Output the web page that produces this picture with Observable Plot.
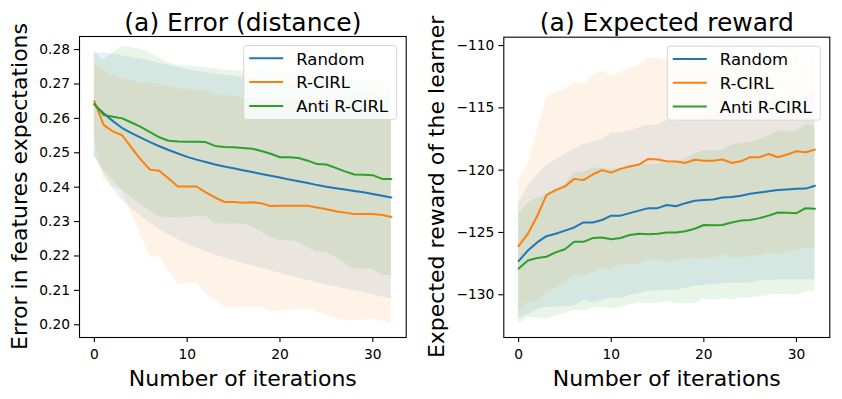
<!DOCTYPE html>
<html>
<head>
<meta charset="utf-8">
<script src="https://cdn.jsdelivr.net/npm/d3@7"></script>
<script src="https://cdn.jsdelivr.net/npm/@observablehq/plot@0.6"></script>
<style>
  html, body { margin: 0; padding: 0; background: white; }
  #chart { display: flex; width: 842px; height: 399px; overflow: hidden; }
  #chart svg { display: block; }
</style>
</head>
<body>
<div id="chart"></div>
<script>
// ---------- data ----------
const iterations = [0,1,2,3,4,5,6,7,8,9,10,11,12,13,14,15,16,17,18,19,20,21,22,23,24,25,26,27,28,29,30,31,32];
const seriesNames = ["Random", "R-CIRL", "Anti R-CIRL"];
const seriesColors = ["#1f77b4", "#ff7f0e", "#2ca02c"];
const xTicks = [0, 10, 20, 30];

// Panel 1: error in feature expectations (mean and std)
const errRandom = [.2640,.2615,.2592,.2572,.2557,.2544,.2531,.2519,.2508,.2498,.2488,.2480,.2473,.2466,.2460,.2455,.2449,.2444,.2438,.2433,.2428,.2422,.2417,.2412,.2406,.2401,.2397,.2393,.2389,.2385,.2380,.2375,.2370];
const errRandomStd = [.0149,.0175,.0195,.0210,.0220,.0228,.0235,.0241,.0246,.0250,.0254,.0257,.0260,.0263,.0266,.0268,.0270,.0272,.0274,.0276,.0278,.0280,.0281,.0283,.0284,.0286,.0287,.0289,.0290,.0291,.0293,.0294,.0295];
const errRcirl = [.2650,.2581,.2562,.2551,.2515,.2480,.2451,.2448,.2425,.2402,.2402,.2402,.2385,.2370,.2357,.2357,.2355,.2356,.2353,.2345,.2346,.2346,.2346,.2346,.2341,.2336,.2330,.2326,.2322,.2322,.2322,.2319,.2313];
const errRcirlStd = [.0107,.0158,.0163,.0163,.0195,.0220,.0254,.0251,.0268,.0285,.0282,.0280,.0295,.0300,.0307,.0307,.0303,.0304,.0301,.0308,.0306,.0303,.0301,.0301,.0304,.0308,.0312,.0314,.0310,.0308,.0306,.0309,.0308];
const errAnti = [.2642,.2610,.2605,.2600,.2588,.2575,.2560,.2545,.2535,.2533,.2532,.2532,.2531,.2520,.2517,.2516,.2514,.2512,.2505,.2497,.2487,.2487,.2485,.2477,.2467,.2466,.2456,.2446,.2437,.2436,.2435,.2424,.2424];
const errAntiStd = [.0153,.0160,.0185,.0210,.0218,.0225,.0230,.0230,.0225,.0222,.0220,.0218,.0216,.0226,.0223,.0223,.0222,.0227,.0235,.0242,.0243,.0243,.0245,.0252,.0255,.0254,.0261,.0268,.0275,.0274,.0273,.0281,.0281];
const errTicks = [0.20, 0.21, 0.22, 0.23, 0.24, 0.25, 0.26, 0.27, 0.28];

// Panel 2: expected reward of the learner (mean and std)
const rewRandom = [-127.3,-126.45,-125.8,-125.3,-125.1,-124.85,-124.6,-124.2,-124.2,-124.0,-123.65,-123.65,-123.45,-123.25,-123.05,-123.05,-122.8,-122.9,-122.65,-122.45,-122.4,-122.35,-122.2,-122.15,-122.05,-121.9,-121.8,-121.7,-121.6,-121.55,-121.5,-121.48,-121.25];
const rewRandomStd = [4.6,5.15,5.42,5.7,5.9,6.1,6.3,6.25,6.45,6.45,6.6,6.65,6.6,6.65,6.65,6.65,6.8,6.75,6.85,6.85,6.85,6.8,6.92,6.93,7.03,7.15,7.1,7.15,7.2,7.25,7.3,7.32,7.55];
const rewRcirl = [-126.1,-125.1,-123.7,-122.0,-121.6,-121.3,-120.7,-120.8,-120.35,-120.0,-120.2,-119.9,-119.7,-119.55,-119.1,-119.15,-119.28,-119.31,-119.42,-119.17,-119.25,-119.25,-119.15,-119.42,-119.29,-118.96,-118.96,-118.7,-118.96,-118.75,-118.48,-118.56,-118.35];
const rewRcirlStd = [5.25,5.57,6.8,7.8,7.85,7.8,7.73,7.7,7.9,7.92,7.78,7.7,7.9,7.97,8.12,8.09,8.13,7.99,7.73,7.83,7.95,7.75,7.6,7.65,7.71,7.99,7.92,7.86,7.84,7.85,7.92,7.65,7.92];
const rewAnti = [-127.9,-127.25,-127.05,-126.95,-126.6,-126.35,-125.75,-125.75,-125.45,-125.4,-125.55,-125.45,-125.2,-125.1,-125.15,-125.1,-125.0,-125.0,-124.9,-124.7,-124.4,-124.42,-124.4,-124.2,-124.05,-124.0,-123.85,-123.65,-123.4,-123.42,-123.45,-123.05,-123.1];
const rewAntiStd = [4.4,4.6,4.8,5.0,5.1,5.2,5.5,5.6,5.6,5.6,5.6,5.6,5.6,5.55,5.6,5.55,5.55,5.7,5.8,6.0,5.95,6.0,5.95,6.2,6.2,6.25,6.3,6.4,6.55,6.55,6.55,6.7,6.65];
const rewTicks = [-130, -125, -120, -115, -110];

// ---------- drawing ----------
const FONT = "DejaVu Sans, sans-serif";

function buildRows(means, stds) {
  return means.flatMap((m, s) => iterations.map((it, i) => ({
    series: seriesNames[s], x: it, y: m[i], lo: m[i] - stds[s][i], hi: m[i] + stds[s][i]
  })));
}

function panel(cfg) {
  const rows = buildRows(cfg.means, cfg.stds);
  const W = 421, H = 399;
  const svg = Plot.plot({
    width: W, height: H,
    marginLeft: cfg.ml, marginRight: cfg.mr, marginTop: cfg.mt, marginBottom: cfg.mb,
    style: {fontFamily: FONT, color: "black", background: "white", overflow: "visible"},
    x: {domain: [-1.6, 33.6]},
    y: {domain: cfg.yDomain},
    color: {domain: seriesNames, range: seriesColors},
    marks: [
      Plot.areaY(rows, {x: "x", y1: "lo", y2: "hi", z: "series", fill: "series", fillOpacity: 0.1}),
      Plot.lineY(rows, {x: "x", y: "y", z: "series", stroke: "series", strokeWidth: 2}),
      Plot.frame({stroke: "black", strokeWidth: 1.1}),
      Plot.axisX({ticks: xTicks, tickSize: 5, tickPadding: 6.5, fontSize: 13.8, label: null, strokeWidth: 1.1}),
      Plot.axisY({ticks: cfg.yTicks, tickFormat: cfg.yFormat, tickSize: 5, tickPadding: 4.5, fontSize: 13.8, label: null, strokeWidth: 1.1}),
      Plot.text([cfg.title], {frameAnchor: "top", lineAnchor: "bottom", dy: -6, fontSize: 25, fill: "black"}),
      Plot.text(["Number of iterations"], {frameAnchor: "bottom", lineAnchor: "bottom", dy: 48, fontSize: 22, fill: "black"})
    ]
  });

  const root = d3.select(svg);
  // rotated y-axis label, centred on the frame
  root.append("text")
    .attr("transform", `translate(${cfg.yLabelX},${(cfg.mt + H - cfg.mb) / 2}) rotate(-90)`)
    .attr("text-anchor", "middle")
    .attr("font-family", FONT).attr("font-size", 22).attr("fill", "black")
    .text(cfg.yLabel);

  // legend in the upper-right corner of the frame
  const boxW = 153, boxH = 74, fs = 16.5;
  const bx = W - cfg.mr - 9 - boxW, by = cfg.mt + 9.5;
  const g = root.append("g").attr("transform", `translate(${bx},${by})`)
    .attr("font-family", FONT).attr("font-size", fs).attr("text-anchor", "start");
  g.append("rect").attr("width", boxW).attr("height", boxH).attr("rx", 3)
    .attr("fill", "white").attr("fill-opacity", 0.8)
    .attr("stroke", "#d6d6d6").attr("stroke-width", 1);
  seriesNames.forEach((name, i) => {
    const yy = 12.8 + i * 23.8;
    g.append("line").attr("x1", 5.5).attr("x2", 39.5).attr("y1", yy).attr("y2", yy)
      .attr("stroke", seriesColors[i]).attr("stroke-width", 2);
    g.append("text").attr("x", 52.5).attr("y", yy + 6.3).attr("text-anchor", "start")
      .attr("fill", "black").text(name);
  });
  return svg;
}

const chart = document.getElementById("chart");
chart.appendChild(panel({
  title: "(a) Error (distance)",
  yLabel: "Error in features expectations",
  means: [errRandom, errRcirl, errAnti],
  stds: [errRandomStd, errRcirlStd, errAntiStd],
  yDomain: [0.1963, 0.2838],
  yTicks: errTicks,
  yFormat: d3.format(".2f"),
  ml: 79, mr: 15.3, mt: 36, mb: 62,
  yLabelX: 27
}));
chart.appendChild(panel({
  title: "(a) Expected reward",
  yLabel: "Expected reward of the learner",
  means: [rewRandom, rewRcirl, rewAnti],
  stds: [rewRandomStd, rewRcirlStd, rewAntiStd],
  yDomain: [-133.43, -109.33],
  yTicks: rewTicks,
  yFormat: d => d3.format("d")(d).replace("-", "\u2212"),
  ml: 82.3, mr: 12.7, mt: 36.7, mb: 62,
  yLabelX: 23
}));
</script>
</body>
</html>
